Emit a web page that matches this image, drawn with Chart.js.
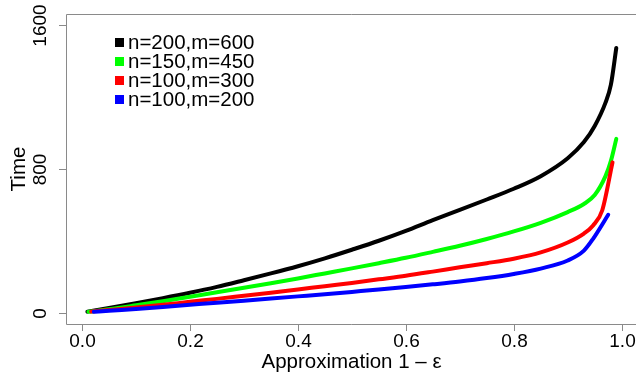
<!DOCTYPE html>
<html>
<head>
<meta charset="utf-8">
<script src="https://cdn.jsdelivr.net/npm/chart.js@4.4.1/dist/chart.umd.min.js"></script>
<style>
    html, body { margin: 0; padding: 0; background: #fff; }
    #wrap { width: 636px; height: 379px; }
</style>
</head>
<body>
<div id="wrap"><canvas id="chart" width="636" height="379"></canvas></div>
<script>
// values
var labels = ['n=200,m=600', 'n=150,m=450', 'n=100,m=300', 'n=100,m=200'];
var colors = ['#000000', '#00ff00', '#ff0000', '#0000ff'];

var xBlack = [0.01, 0.05, 0.1, 0.15, 0.2, 0.25, 0.3, 0.35, 0.4, 0.45, 0.5, 0.55, 0.6, 0.65, 0.7, 0.75, 0.8, 0.85, 0.9, 0.93, 0.95, 0.97, 0.98, 0.99];
var yBlack = [5, 25, 52, 80, 110, 143, 180, 218, 258, 302, 350, 400, 455, 515, 572, 630, 690, 760, 860, 950, 1040, 1170, 1270, 1475];

var xGreen = [0.012, 0.05, 0.1, 0.15, 0.2, 0.25, 0.3, 0.35, 0.4, 0.45, 0.5, 0.55, 0.6, 0.65, 0.7, 0.75, 0.8, 0.85, 0.9, 0.93, 0.95, 0.97, 0.98, 0.99];
var yGreen = [4, 18, 40, 63, 88, 113, 138, 163, 190, 218, 246, 275, 305, 338, 372, 410, 452, 500, 560, 605, 655, 760, 845, 968];

var xRed = [0.017, 0.05, 0.1, 0.15, 0.2, 0.25, 0.3, 0.35, 0.4, 0.45, 0.5, 0.55, 0.6, 0.65, 0.7, 0.75, 0.8, 0.85, 0.9, 0.93, 0.947, 0.964, 0.983];
var yRed = [5, 14, 28, 43, 60, 76, 93, 110, 128, 147, 165, 185, 205, 228, 252, 275, 300, 335, 390, 440, 485, 570, 837];

var xBlue = [0.022, 0.05, 0.1, 0.15, 0.2, 0.25, 0.3, 0.35, 0.4, 0.45, 0.5, 0.55, 0.6, 0.65, 0.7, 0.75, 0.8, 0.85, 0.9, 0.93, 0.947, 0.975];
var yBlue = [4, 10, 20, 31, 43, 55, 66, 78, 90, 102, 115, 128, 142, 157, 173, 192, 215, 245, 290, 345, 411, 545];

var xTicks = [0, 0.2, 0.4, 0.6, 0.8, 1.0];
var xTickLabels = ['0.0', '0.2', '0.4', '0.6', '0.8', '1.0'];
var yTicks = [0, 800, 1600];
var yTickLabels = ['0', '800', '1600'];

var xTitle = 'Approximation 1 \u2013 \u03b5';
var yTitle = 'Time';

function toPoints(xs, ys) {
    var pts = [];
    for (var i = 0; i < xs.length; i++) {
        pts.push({ x: xs[i], y: ys[i] });
    }
    return pts;
}

var series = [
    toPoints(xBlack, yBlack),
    toPoints(xGreen, yGreen),
    toPoints(xRed, yRed),
    toPoints(xBlue, yBlue)
];

var datasets = [];
for (var i = 0; i < series.length; i++) {
    datasets.push({
        label: labels[i],
        data: series[i],
        borderColor: colors[i],
        backgroundColor: colors[i],
        borderWidth: 4,
        borderCapStyle: 'round',
        borderJoinStyle: 'round',
        pointRadius: 0,
        cubicInterpolationMode: 'monotone',
        fill: false,
        order: series.length - 1 - i   // blue drawn on top
    });
}

var FONT = '"Liberation Sans", Arial, Helvetica, sans-serif';
var AXIS_COLOR = '#8a8a8a';

// R style box, ticks, labels and legend
var rFrame = {
    id: 'rFrame',
    afterDraw: function (chart) {
        var ctx = chart.ctx,
            area = chart.chartArea,
            xs = chart.scales.x,
            ys = chart.scales.y;

        ctx.save();
        ctx.strokeStyle = AXIS_COLOR;
        ctx.lineWidth = 1;

        // box (right edge falls outside the picture)
        ctx.beginPath();
        ctx.moveTo(chart.width + 2, area.top + 0.5);
        ctx.lineTo(area.left + 0.5, area.top + 0.5);
        ctx.lineTo(area.left + 0.5, area.bottom + 0.5);
        ctx.lineTo(chart.width + 2, area.bottom + 0.5);
        ctx.stroke();

        // x ticks
        ctx.fillStyle = '#000';
        ctx.font = '19px ' + FONT;
        ctx.textAlign = 'center';
        ctx.textBaseline = 'alphabetic';
        for (var i = 0; i < xTicks.length; i++) {
            var px = Math.round(xs.getPixelForValue(xTicks[i])) + 0.5;
            ctx.beginPath();
            ctx.moveTo(px, area.bottom);
            ctx.lineTo(px, area.bottom + 7);
            ctx.stroke();
            ctx.fillText(xTickLabels[i], px, area.bottom + 23);
        }

        // y ticks, labels turned like R does
        for (var j = 0; j < yTicks.length; j++) {
            var py = Math.round(ys.getPixelForValue(yTicks[j])) + 0.5;
            ctx.beginPath();
            ctx.moveTo(area.left, py);
            ctx.lineTo(area.left - 7, py);
            ctx.stroke();
            ctx.save();
            ctx.translate(area.left - 20, py);
            ctx.rotate(-Math.PI / 2);
            ctx.fillText(yTickLabels[j], 0, 0);
            ctx.restore();
        }

        // axis titles
        ctx.font = '20.5px ' + FONT;
        ctx.fillText(xTitle, (area.left + chart.width) / 2 + 0.5, 368);
        ctx.save();
        ctx.translate(25, (area.top + area.bottom) / 2);
        ctx.rotate(-Math.PI / 2);
        ctx.fillText(yTitle, 0, 0);
        ctx.restore();

        // legend
        ctx.textAlign = 'left';
        ctx.textBaseline = 'middle';
        for (var k = 0; k < labels.length; k++) {
            var ly = 42.5 + k * 19;
            ctx.fillStyle = colors[k];
            ctx.fillRect(115, ly - 4.5, 9, 9);
            ctx.fillStyle = '#000';
            ctx.fillText(labels[k], 128, ly + 1);
        }
        ctx.restore();
    }
};

new Chart(document.getElementById('chart'), {
    type: 'line',
    data: { datasets: datasets },
    options: {
        responsive: false,
        animation: false,
        devicePixelRatio: 1,
        layout: { padding: { left: 66, top: 14, right: 0, bottom: 55 } },
        scales: {
            x: { type: 'linear', display: false, min: -0.0296, max: 1.0265 },
            y: { type: 'linear', display: false, min: -64, max: 1664 }
        },
        plugins: {
            legend: { display: false },
            tooltip: { enabled: false }
        }
    },
    plugins: [rFrame]
});
</script>
</body>
</html>
